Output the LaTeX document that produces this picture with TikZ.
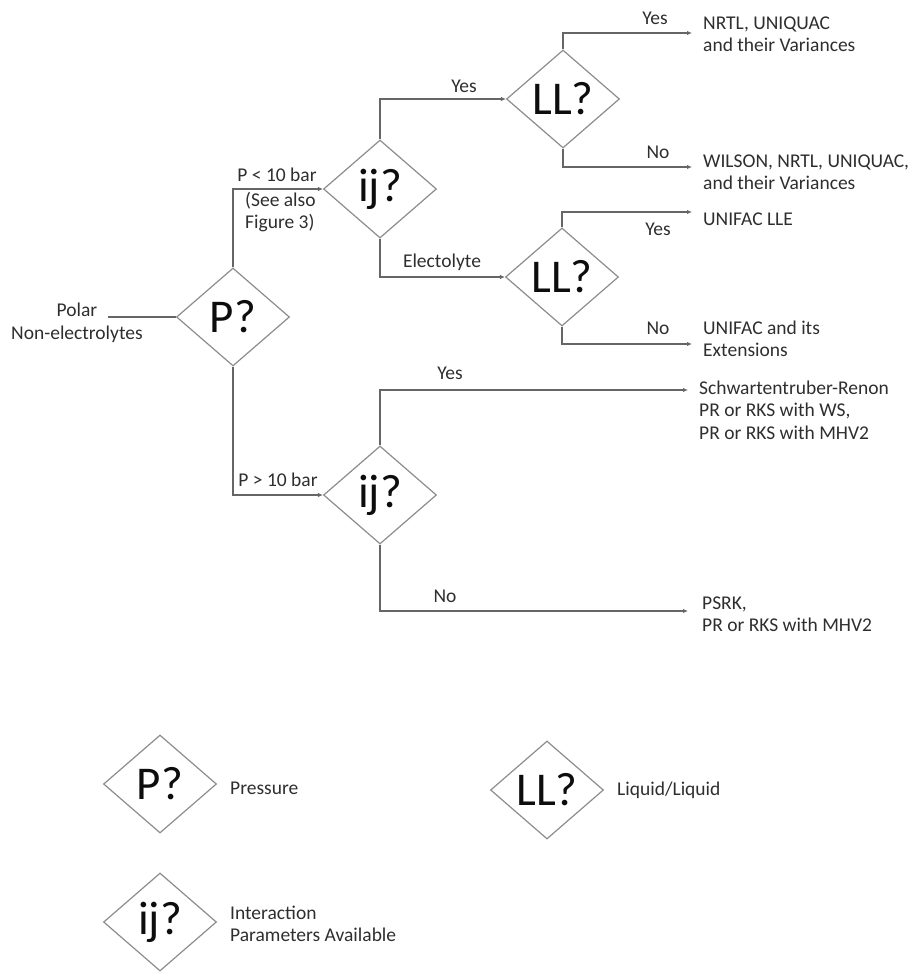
\documentclass[tikz,border=0pt]{standalone}
\usepackage{fontspec}
\setmainfont{Carlito}
\usetikzlibrary{shapes.geometric,arrows.meta}

\begin{document}
\begin{tikzpicture}[x=1pt,y=-1pt,
    question/.style={draw=black!45,line width=1.2pt,shape=diamond,minimum width=113pt,minimum height=98pt,inner sep=0pt,text=black!95,font=\fontsize{47}{50}\selectfont},
    link/.style={draw=black!60,line width=1.4pt},
    flow/.style={link,-{Latex[length=5pt,width=4.5pt]}},
    tag/.style={text=black!82,font=\fontsize{19.5}{22.5}\selectfont,inner sep=0pt},
    result/.style={tag,anchor=west,align=left}]
    \useasboundingbox (0,0) rectangle (909,973);

    \node[question] (p) at (233,317) {P?};
    \node[question] (ijlow) at (380,189) {ij?};
    \node[question] (llyes) at (563,99) {LL?};
    \node[question] (llelec) at (562,277) {LL?};
    \node[question] (ijhigh) at (380,495) {ij?};

    \node[tag,align=center] (polar) at (77,323) {Polar\\Non-electrolytes};
    \coordinate (polarend) at (108,317);
    \draw[link] (polarend) -- (p.west);

    \draw[flow] (p.north) |- (ijlow.west);
    \draw[flow] (p.south) |- (ijhigh.west);
    \draw[flow] (ijlow.north) |- (llyes.west);
    \draw[flow] (ijlow.south) |- (llelec.west);

    \coordinate (ea) at (692,33);
    \coordinate (eb) at (692,167);
    \coordinate (ec) at (692,212);
    \coordinate (ed) at (692,344);
    \coordinate (ee) at (688,390);
    \coordinate (ef) at (688,611);
    \draw[flow] (llyes.north) |- (ea);
    \draw[flow] (llyes.south) |- (eb);
    \draw[flow] (llelec.north) |- (ec);
    \draw[flow] (llelec.south) |- (ed);
    \draw[flow] (ijhigh.north) |- (ee);
    \draw[flow] (ijhigh.south) |- (ef);

    \node[tag] (lowp) at (277,175) {P < 10 bar};
    \node[result] (seealso) at (245,212) {(See also\\Figure 3)};
    \node[tag] (highp) at (278,480) {P > 10 bar};
    \node[tag] (yesa) at (464,86) {Yes};
    \node[tag] (elec) at (442,262) {Electolyte};
    \node[tag] (yesb) at (655,18) {Yes};
    \node[tag] (nob) at (658,152) {No};
    \node[tag] (yesc) at (658,229) {Yes};
    \node[tag] (noc) at (658,328) {No};
    \node[tag] (yesd) at (450,373) {Yes};
    \node[tag] (nod) at (445,596) {No};

    \node[result] (nrtl) at (703,34) {NRTL, UNIQUAC\\and their Variances};
    \node[result] (wilson) at (703,172) {WILSON, NRTL, UNIQUAC,\\and their Variances};
    \node[result] (unille) at (703,219) {UNIFAC LLE};
    \node[result] (uniext) at (703,339) {UNIFAC and its\\Extensions};
    \node[result] (schw) at (699,410) {Schwartentruber-Renon\\PR or RKS with WS,\\PR or RKS with MHV2};
    \node[result] (psrk) at (702,614) {PSRK,\\PR or RKS with MHV2};

    \node[question] (keyp) at (160,784) {P?};
    \node[question] (keyll) at (547,790) {LL?};
    \node[question] (keyij) at (160,922) {ij?};
    \node[result] at (230,788) {Pressure};
    \node[result] at (617,790) {Liquid/Liquid};
    \node[result] at (230,924) {Interaction\\Parameters Available};
\end{tikzpicture}
\end{document}
